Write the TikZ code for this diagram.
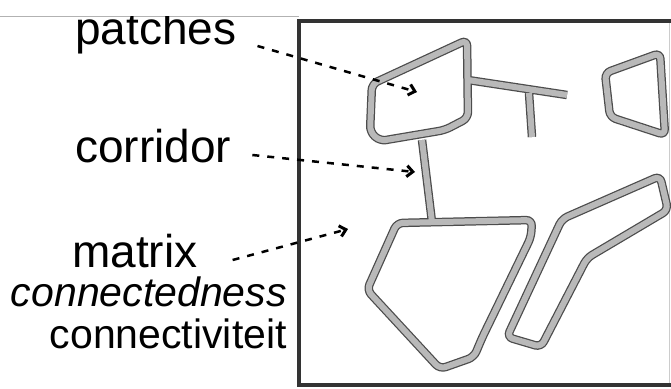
\documentclass[tikz,border=0pt]{standalone}
\usepackage{fontspec}
\setmainfont{Liberation Sans}
\usetikzlibrary{arrows.meta}

\begin{document}
\begin{tikzpicture}[
    x=1pt, y=-1pt,
    patch/.style=
        {draw=gray!55, line width=6pt, rounded corners=6pt, line join=round,
         preaction={draw=black!70, line width=8.5pt}},
    frame/.style=
        {draw=black!80, line width=4.5pt},
    term/.style=
        {inner sep=0pt, font=\fontsize{46}{50}\selectfont},
    subterm/.style=
        {inner sep=0pt, font=\fontsize{41}{45}\selectfont},
    pointer/.style=
        {draw=black, line width=2.5pt, dash pattern=on 7pt off 8pt,
         -{Straight Barb[length=6pt,width=11pt,line width=3pt]}}]
    \useasboundingbox (0,0) rectangle (671,388);
    \coordinate (patchtip) at (417,92);
    \coordinate (corridortip) at (415,172);
    \coordinate (matrixtip) at (348,229);
    \draw [gray!60, line width=0.8pt] (0,16) -- (299,16);
    \draw [gray!40, line width=0.6pt] (669,21) -- (669,385);
    \draw [frame] (671,21) -- (299,21) -- (299,385) -- (671,385);
    \draw [patch]
        (372,84) -- (467,40) -- (468,118) -- (445,130) -- (380,141) -- (370,132) -- cycle
        (422,140) -- (432,222)
        (468,80) -- (567,95)
        (529,93) -- (532,137)
        (605,73) -- (660,53) -- (665,135) -- (610,117) -- cycle
        (397,223) -- (532,220) -- (531,237) -- (482,338) -- (474,357) -- (440,369) -- (367,290) -- cycle
        (562,219) -- (660,176) -- (668,210) -- (587,258) -- (541,347) -- (507,337) -- cycle;
    \begin{scope}
        \clip (0,16.5) rectangle (299,70);
        \node [term, anchor=base west] (patches) at (75,44) {patches};
    \end{scope}
    \node [term, anchor=base west] (corridor) at (75,162) {corridor};
    \node [term, anchor=base west] (matrix) at (72,267) {matrix};
    \node [subterm, anchor=base east] (connectedness) at (287,306) {\itshape connectedness};
    \node [subterm, anchor=base east] (connectiviteit) at (287,348) {connectiviteit};
    \draw [pointer] ([shift={(21,2)}]patches.base east) -- (patchtip);
    \draw [pointer] ([shift={(21,-7)}]corridor.base east) -- (corridortip);
    \draw [pointer] ([shift={(35,-7)}]matrix.base east) -- (matrixtip);
\end{tikzpicture}
\end{document}
